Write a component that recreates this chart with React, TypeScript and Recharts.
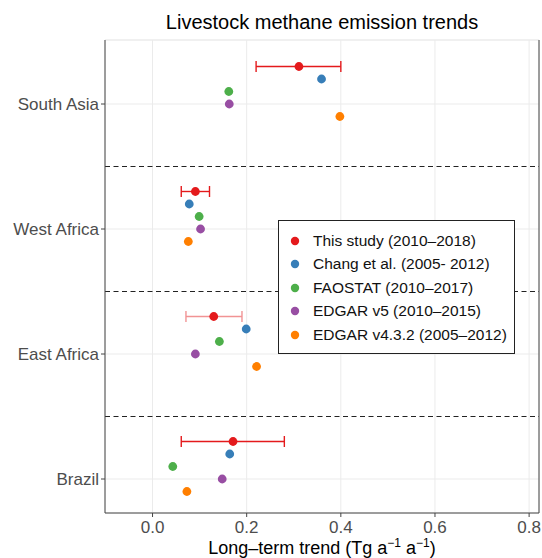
import {
  CartesianGrid,
  ErrorBar,
  Label,
  Legend,
  ReferenceLine,
  Scatter,
  ScatterChart,
  XAxis,
  YAxis,
} from "recharts";

// bottom to top
const regions = ["Brazil", "East Africa", "West Africa", "South Asia"];
const regionPos = [1, 2, 3, 4];

const thisStudy = [0.171, 0.13, 0.091, 0.311];
const thisStudyLow = [0.061, 0.071, 0.061, 0.22];
const thisStudyHigh = [0.28, 0.19, 0.121, 0.4];
const chang = [0.164, 0.199, 0.078, 0.359];
const faostat = [0.043, 0.142, 0.099, 0.162];
const edgarV5 = [0.148, 0.091, 0.102, 0.163];
const edgarV432 = [0.073, 0.221, 0.076, 0.398];

const xTicks = [0, 0.2, 0.4, 0.6, 0.8];

const series = [
  { name: "This study (2010–2018)", color: "#E41A1C", values: thisStudy, dodge: 0.3 },
  { name: "Chang et al. (2005- 2012)", color: "#377EB8", values: chang, dodge: 0.2 },
  { name: "FAOSTAT (2010–2017)", color: "#4DAF4A", values: faostat, dodge: 0.1 },
  { name: "EDGAR v5 (2010–2015)", color: "#984EA3", values: edgarV5, dodge: 0 },
  { name: "EDGAR v4.3.2 (2005–2012)", color: "#FF7F00", values: edgarV432, dodge: -0.1 },
];

const FONT = "'Liberation Sans', Arial, Helvetica, sans-serif";

const pointsOf = (values: number[], dodge: number) =>
  values.map((v, i) => ({ x: v, y: regionPos[i] + dodge }));

// red points with error bars; East Africa's bar is drawn lighter
const studyRows = thisStudy.map((v, i) => ({
  x: v,
  y: regionPos[i] + 0.3,
  err: [v - thisStudyLow[i], thisStudyHigh[i] - v],
}));
const studyStrong = studyRows.filter((_, i) => regions[i] !== "East Africa");
const studyLight = studyRows.filter((_, i) => regions[i] === "East Africa");

const dot = (color: string) => (p: any) =>
  <circle cx={p.cx} cy={p.cy} r={4.4} fill={color} />;

function LegendBox() {
  return (
    <div
      style={{
        border: "1px solid #222",
        background: "#fff",
        padding: "8px 0 6px 0",
        fontFamily: FONT,
        fontSize: 15.5,
        color: "#111",
        boxSizing: "border-box",
        width: 237,
      }}
    >
      {series.map((s) => (
        <div key={s.name} style={{ display: "flex", alignItems: "center", height: 23.5 }}>
          <svg width={34} height={12}>
            <circle cx={16} cy={6} r={4.2} fill={s.color} />
          </svg>
          <span>{s.name}</span>
        </div>
      ))}
    </div>
  );
}

function AxisTitle({ viewBox }: any) {
  const cx = viewBox.x + viewBox.width / 2;
  return (
    <text x={cx} y={554} textAnchor="middle" fontFamily={FONT} fontSize={18} fill="#000">
      Long–term trend (Tg a
      <tspan fontSize={12} dy={-7}>−1</tspan>
      <tspan dy={7}> a</tspan>
      <tspan fontSize={12} dy={-7}>−1</tspan>
      <tspan dy={7}>)</tspan>
    </text>
  );
}

export default function App() {
  return (
    <div style={{ position: "relative", width: 542, height: 558, background: "#fff" }}>
      <style>{`body{margin:0}`}</style>
      <div
        style={{
          position: "absolute",
          left: 105,
          width: 434,
          top: 12,
          textAlign: "center",
          fontFamily: FONT,
          fontSize: 20,
          lineHeight: "20px",
          color: "#000",
        }}
      >
        Livestock methane emission trends
      </div>
      <ScatterChart
        width={542}
        height={558}
        margin={{ top: 40, right: 3, bottom: 0, left: 0 }}
      >
        <CartesianGrid stroke="#EBEBEB" strokeWidth={1} />
        <ReferenceLine y={4.512} stroke="#EBEBEB" />
        <XAxis
          type="number"
          dataKey="x"
          domain={[-0.101, 0.821]}
          ticks={xTicks}
          allowDataOverflow
          tickFormatter={(v: number) => v.toFixed(1)}
          height={45}
          tickSize={4}
          tickMargin={4}
          stroke="#444"
          tick={{ fill: "#4D4D4D", fontSize: 17, fontFamily: FONT }}
        >
          <Label content={AxisTitle} />
        </XAxis>
        <YAxis
          type="number"
          dataKey="y"
          domain={[0.728, 4.512]}
          ticks={regionPos}
          allowDataOverflow
          tickFormatter={(v: number) => regions[regionPos.indexOf(v)] ?? ""}
          width={105}
          tickSize={4}
          tickMargin={2}
          stroke="#444"
          tick={{ fill: "#4D4D4D", fontSize: 17, fontFamily: FONT }}
        />
        <ReferenceLine x={0.821} stroke="#444" />
        {[3.5, 2.5, 1.5].map((y) => (
          <ReferenceLine key={y} y={y} stroke="#222" strokeWidth={1.2} strokeDasharray="5 3.5" />
        ))}
        {series.slice(1).map((s) => (
          <Scatter
            key={s.name}
            name={s.name}
            data={pointsOf(s.values, s.dodge)}
            fill={s.color}
            shape={dot(s.color)}
            isAnimationActive={false}
          />
        ))}
        <Scatter
          name="This study light"
          data={studyLight}
          fill="#E41A1C"
          shape={dot("#E41A1C")}
          legendType="none"
          isAnimationActive={false}
        >
          <ErrorBar dataKey="err" direction="x" width={5.5} stroke="#F19394" strokeWidth={1.4} />
        </Scatter>
        <Scatter
          name={series[0].name}
          data={studyStrong}
          fill="#E41A1C"
          shape={dot("#E41A1C")}
          isAnimationActive={false}
        >
          <ErrorBar dataKey="err" direction="x" width={5.5} stroke="#E41A1C" strokeWidth={1.4} />
        </Scatter>
        <Legend
          layout="vertical"
          align="center"
          verticalAlign="middle"
          content={() => <LegendBox />}
          wrapperStyle={{ left: 278, top: 220, width: 237 }}
        />
      </ScatterChart>
    </div>
  );
}
